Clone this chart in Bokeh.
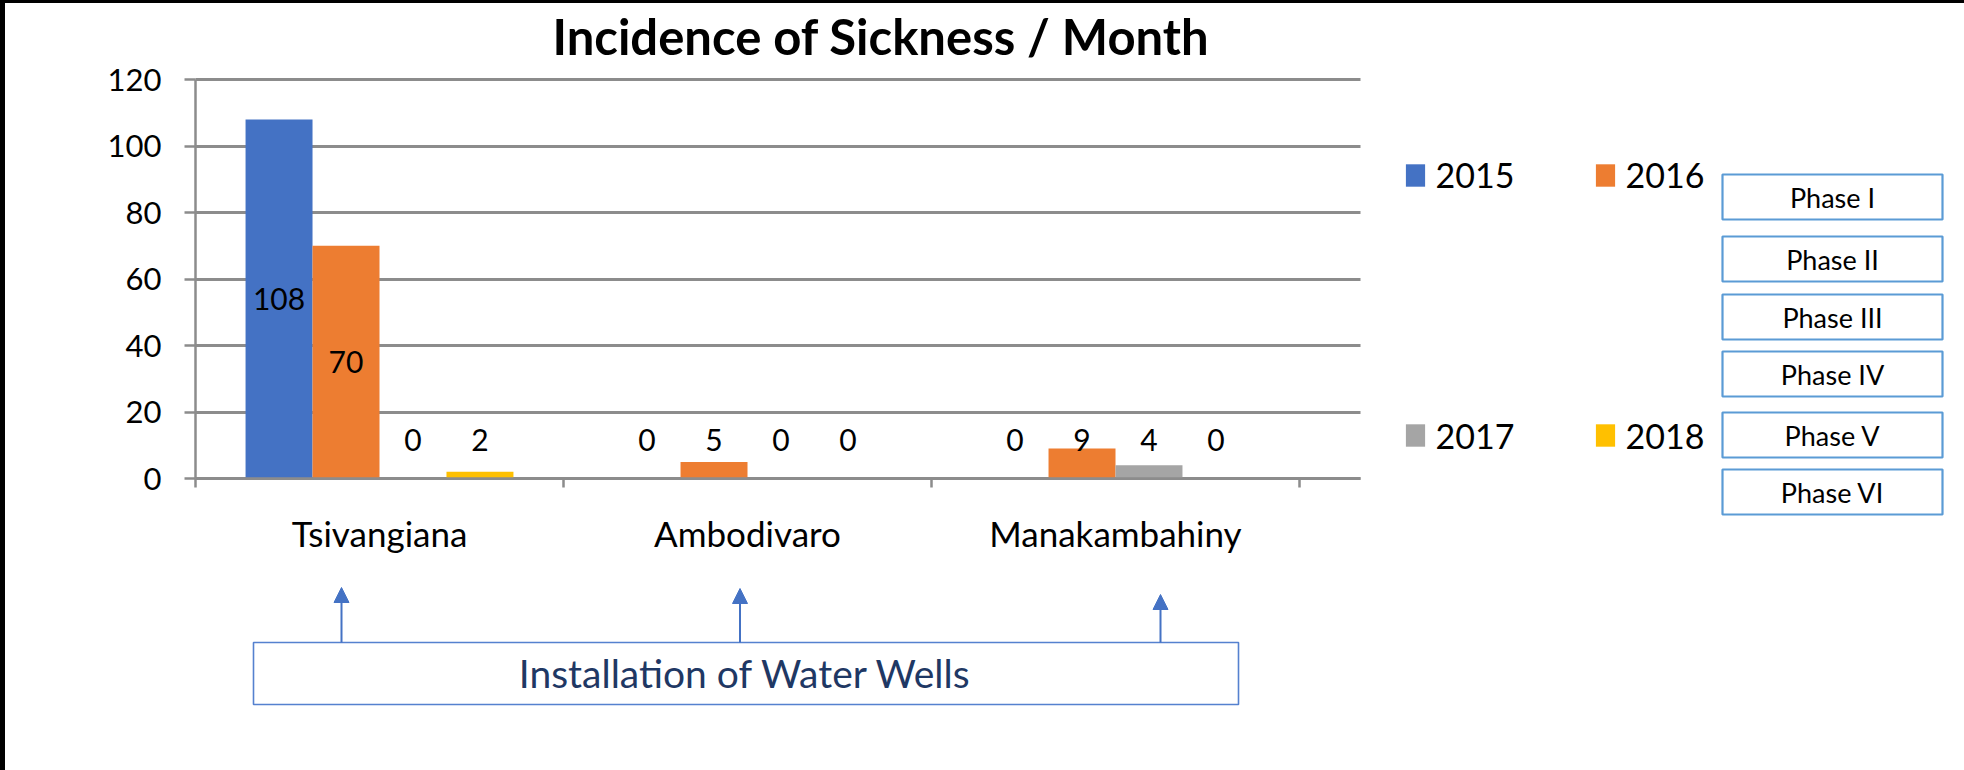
from bokeh.plotting import figure
from bokeh.models import (Range1d, FixedTicker, ColumnDataSource, LabelSet, Legend,
                          LegendItem, BoxAnnotation, Label, Arrow, NormalHead)
from bokeh.core.properties import value
from bokeh.embed import file_html
from bokeh.resources import INLINE

# ---------------- data ----------------
villages = ["Tsivangiana", "Ambodivaro", "Manakambahiny"]
years = ["2015", "2016", "2017", "2018"]
v2015 = [108, 0, 0]
v2016 = [70, 5, 9]
v2017 = [0, 0, 4]
v2018 = [2, 0, 0]
series = [v2015, v2016, v2017, v2018]
colors = ["#4472C4", "#ED7D31", "#A5A5A5", "#FFC000"]
y_ticks = [0, 20, 40, 60, 80, 100, 120]
phases = ["Phase I", "Phase II", "Phase III", "Phase IV", "Phase V", "Phase VI"]
intervention = "Installation of Water Wells"
title_text = "Incidence of Sickness  / Month"

# ---------------- layout (page pixels -> data units) ----------------
BL, BT = 5, 3                   # black border widths (left, top)
W, H = 1964 - BL, 770 - BT      # canvas size
FL, FB = 195.0, 478.0           # plot-area left / zero line on the page
CAT_PX = 368.0                  # pixels per category
PLOT_RIGHT = 1360.0
UNIT_PX = (478.0 - 79.0) / 120.0
N_CAT_SPAN = (PLOT_RIGHT - FL) / CAT_PX


def dx(px):
    return (px - FL) / CAT_PX


def dy(py):
    return (FB - py) / UNIT_PX


FONT = "Lato"
GRAY = "#8C8C8C"

p = figure(frame_width=W, frame_height=H,
           min_border_left=0, min_border_right=0, min_border_top=0, min_border_bottom=0,
           x_range=Range1d(dx(BL), dx(BL + W)), y_range=Range1d(dy(BT + H), dy(BT)),
           output_backend="svg", toolbar_location=None, title=None,
           background_fill_color="white", border_fill_color="white")
p.styles = {"border-top": "%dpx solid black" % BT, "border-left": "%dpx solid black" % BL}
p.outline_line_color = None

# title
p.add_layout(Label(x=dx(552), y=dy(35), text=title_text, text_align="left",
                   text_baseline="middle", text_font=FONT, text_font_style="bold",
                   text_font_size="49px", text_color="black"))

# gridlines: restricted to the plot area
grid = p.ygrid[0]
grid.ticker = FixedTicker(ticks=y_ticks)
grid.grid_line_color = GRAY
grid.grid_line_width = 3
if "cross_bounds" in grid.properties():
    grid.cross_bounds = (0, N_CAT_SPAN)
else:
    grid.visible = False
    p.segment(x0=[0] * len(y_ticks), x1=[N_CAT_SPAN] * len(y_ticks), y0=y_ticks, y1=y_ticks,
              line_color=GRAY, line_width=3, level="underlay")
p.xgrid.visible = False

# bars
bar_w = 0.182
offsets = [-0.273, -0.091, 0.091, 0.273]
renderers = []
for j, vals in enumerate(series):
    xs = [i + 0.5 + offsets[j] for i in range(len(villages))]
    src = ColumnDataSource(dict(
        x=xs, top=vals,
        label_y=[max(v / 2.0, 11.7) for v in vals],
        text=[str(v) for v in vals]))
    r = p.vbar(x="x", top="top", width=bar_w, source=src,
               fill_color=colors[j], line_color=None)
    renderers.append(r)
    p.add_layout(LabelSet(x="x", y="label_y", text="text", source=src,
                          text_align="center", text_baseline="middle",
                          text_font=value(FONT), text_font_size=value("30px"),
                          text_color="black"))

# axes (placed inside the canvas at the chart's origin)
p.yaxis.fixed_location = 0
p.xaxis.fixed_location = 0
p.yaxis.bounds = (0, 120)
p.xaxis.bounds = (0, N_CAT_SPAN)
p.yaxis.ticker = FixedTicker(ticks=y_ticks)
p.yaxis.axis_line_color = GRAY
p.yaxis.axis_line_width = 2.5
p.yaxis.major_tick_line_color = GRAY
p.yaxis.major_tick_line_width = 2.5
p.yaxis.major_tick_out = 11
p.yaxis.major_tick_in = 0
p.yaxis.minor_tick_line_color = None
p.yaxis.major_label_text_font = FONT
p.yaxis.major_label_text_font_size = "31px"
p.yaxis.major_label_text_color = "black"
p.yaxis.major_label_standoff = 23

centers = [i + 0.5 for i in range(len(villages))]
bounds = [float(i) for i in range(len(villages) + 1)]
p.xaxis.ticker = FixedTicker(ticks=centers, minor_ticks=bounds)
p.xaxis.major_label_overrides = {c: v for c, v in zip(centers, villages)}
p.xaxis.axis_line_color = GRAY
p.xaxis.axis_line_width = 2.5
p.xaxis.major_tick_line_color = None
p.xaxis.major_tick_out = 0
p.xaxis.major_tick_in = 0
p.xaxis.minor_tick_line_color = GRAY
p.xaxis.minor_tick_line_width = 2.5
p.xaxis.minor_tick_out = 9
p.xaxis.minor_tick_in = 0
p.xaxis.major_label_text_font = FONT
p.xaxis.major_label_text_font_size = "35px"
p.xaxis.major_label_text_color = "black"
p.xaxis.major_label_standoff = 24

# legends (two rows, as in the reference)
leg_common = dict(orientation="horizontal", border_line_color=None,
                  background_fill_alpha=0, padding=0, margin=0, spacing=0,
                  glyph_width=24, glyph_height=28, label_standoff=9,
                  label_width=157, label_height=28,
                  label_text_font=FONT, label_text_font_size="34px",
                  label_text_color="black")
LEG_H = 40
leg1 = Legend(items=[LegendItem(label=years[0], renderers=[renderers[0]]),
                     LegendItem(label=years[1], renderers=[renderers[1]])],
              location=(1402.6 - BL, (BT + H) - 175 - LEG_H / 2), **leg_common)
leg2 = Legend(items=[LegendItem(label=years[2], renderers=[renderers[2]]),
                     LegendItem(label=years[3], renderers=[renderers[3]])],
              location=(1402.6 - BL, (BT + H) - 435.5 - LEG_H / 2), **leg_common)
p.add_layout(leg1)
p.add_layout(leg2)

# phase boxes
phase_tops = [174, 236, 294, 351, 412, 469]
phase_h = 45
for name, t in zip(phases, phase_tops):
    p.add_layout(BoxAnnotation(left=dx(1722), right=dx(1942), top=dy(t), bottom=dy(t + phase_h),
                               fill_color="white", fill_alpha=1.0,
                               line_color="#5B9BD5", line_alpha=1.0, line_width=2.2))
    p.add_layout(Label(x=dx(1832), y=dy(t + phase_h / 2.0), text=name,
                       text_align="center", text_baseline="middle",
                       text_font=FONT, text_font_size="27px", text_color="black"))

# intervention box + arrows
p.add_layout(BoxAnnotation(left=dx(253), right=dx(1238), top=dy(642), bottom=dy(704),
                           fill_color="white", fill_alpha=1.0,
                           line_color="#5581CF", line_alpha=1.0, line_width=1.6))
p.add_layout(Label(x=dx(745), y=dy(672), text=intervention,
                   text_align="center", text_baseline="middle",
                   text_font=FONT, text_font_size="39px", text_color="#1F3864"))
for ax, ay in [(341, 587), (739.5, 588), (1160, 594)]:
    p.add_layout(Arrow(x_start=dx(ax), y_start=dy(642), x_end=dx(ax), y_end=dy(ay),
                       line_color="#4472C4", line_width=2,
                       end=NormalHead(size=15, fill_color="#4472C4", line_color="#4472C4")))

open("out.html", "w").write(file_html(p, INLINE))
